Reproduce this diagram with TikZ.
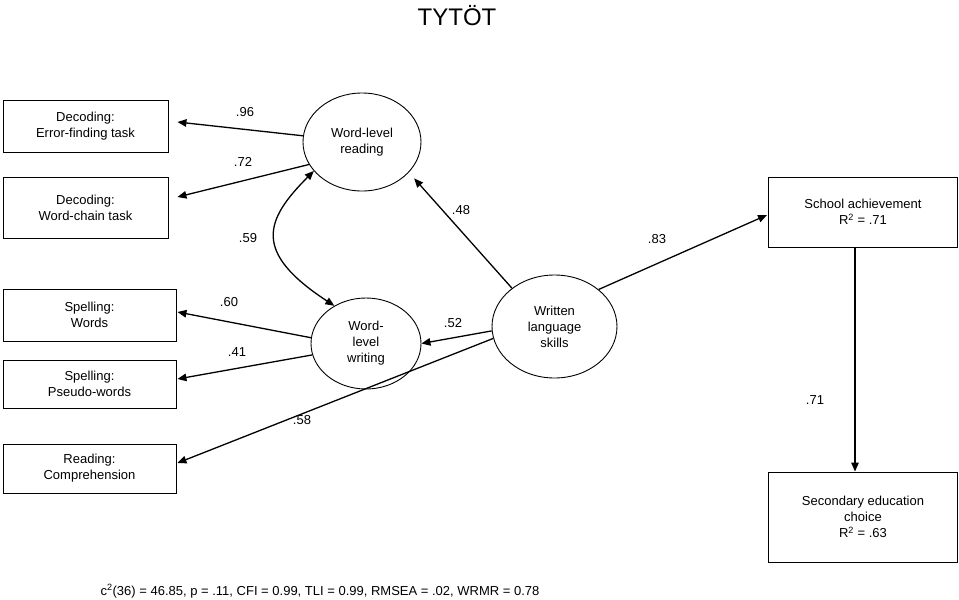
\documentclass[tikz,border=0pt]{standalone}
\usepackage{fontspec}
\setmainfont{Liberation Sans}
\usetikzlibrary{arrows.meta,calc,shapes.geometric}
\begin{document}
\begin{tikzpicture}[x=1pt,y=-1pt,
  every node/.style={font=\fontsize{13}{16}\selectfont},
  obs/.style={draw,line width=0.9pt,rectangle,inner sep=0pt,align=center},
  lat/.style={draw,line width=0.9pt,ellipse,inner sep=0pt,align=center},
  arr/.style={line width=1.3pt,-{Triangle[length=9pt,width=7.5pt]}},
  biarr/.style={line width=1.3pt,{Triangle[length=9pt,width=7.5pt]}-{Triangle[length=9pt,width=7.5pt]}},
  coef/.style={inner sep=0pt}]
\useasboundingbox (0,0) rectangle (959,600);
% title
\node (title) at (457,16) {\fontsize{24}{28}\selectfont TYT\"OT};
% observed boxes
\node[obs,minimum width=165,minimum height=52] (err) at (85.5,126) {Decoding:\\Error-finding task};
\node[obs,minimum width=165,minimum height=61] (chain) at (85.5,207.5) {Decoding:\\Word-chain task};
\node[obs,minimum width=173,minimum height=52] (words) at (89.5,315) {Spelling:\\Words};
\node[obs,minimum width=173,minimum height=48] (pseudo) at (89.5,384) {Spelling:\\Pseudo-words};
\node[obs,minimum width=173,minimum height=49] (comp) at (89.5,468.5) {Reading:\\Comprehension};
\node[obs,minimum width=189,minimum height=70] (school) at (863,212) {School achievement\\R\textsuperscript{2} = .71};
\node[obs,minimum width=189,minimum height=90] (sec) at (863,517) {Secondary education\\choice\\R\textsuperscript{2} = .63};
% latent ellipses
\node[lat,minimum width=118,minimum height=98] (read) at (362,142) {Word-level\\reading};
\node[lat,minimum width=110,minimum height=91] (wwrite) at (366,343.5) {Word-\\level\\writing};
\node[lat,minimum width=125,minimum height=103] (wls) at (554.5,326.5) {Written\\language\\skills};
% connectors
\draw[arr] (read.174) -- ($(err.east)+(9,-4)$);
\draw[arr] (read.203) -- ($(chain.east)+(9,-10.5)$);
\draw[biarr] (read.211) .. controls (265,220) and (252,252) .. (wwrite.130);
\draw[arr] (wwrite.174) -- ($(words.east)+(1,-3)$);
\draw[arr] (wwrite.192) -- ($(pseudo.east)+(1,-5)$);
\draw[arr] (wls.191) -- ($(comp.east)+(1,-5.5)$);
\draw[arr] (wls.184) -- (wwrite.east);
\draw[arr,shorten >=8pt] (wls.138) -- (read.327);
\draw[arr] (wls.40) -- ($(school.west)+(-1,3)$);
\draw[arr] ($(school.south)+(-8,0)$) -- ($(sec.north)+(-8,0)$);
% coefficients
\node[coef] (c96) at (245,112) {.96};
\node[coef] (c72) at (243,162) {.72};
\node[coef] (c59) at (248,238) {.59};
\node[coef] (c60) at (229,302) {.60};
\node[coef] (c41) at (237,352) {.41};
\node[coef] (c58) at (302,420) {.58};
\node[coef] (c52) at (453,323) {.52};
\node[coef] (c48) at (461,210) {.48};
\node[coef] (c83) at (657,239) {.83};
\node[coef] (c71) at (815,400) {.71};
% fit statistics
\node (fit) at (320,591) {c\textsuperscript{2}(36) = 46.85, p = .11, CFI = 0.99, TLI = 0.99, RMSEA = .02, WRMR = 0.78};
\end{tikzpicture}
\end{document}
